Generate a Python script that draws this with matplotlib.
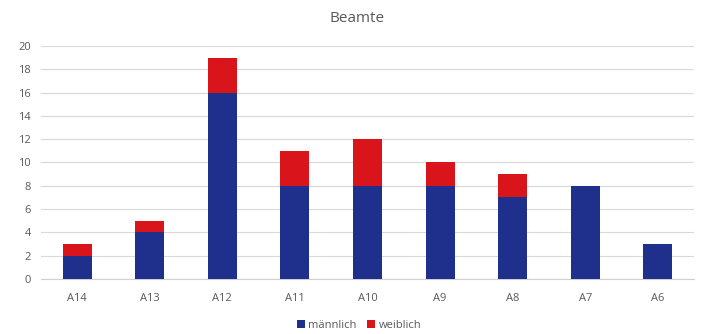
import matplotlib
matplotlib.use("Agg")
import matplotlib.pyplot as plt
import numpy as np

categories = ["A14", "A13", "A12", "A11", "A10", "A9", "A8", "A7", "A6"]
maennlich = [2, 4, 16, 8, 8, 8, 7, 8, 3]
weiblich = [1, 1, 3, 3, 4, 2, 2, 0, 0]
y_ticks = [0, 2, 4, 6, 8, 10, 12, 14, 16, 18, 20]

plt.rcParams["font.family"] = ["Open Sans", "DejaVu Sans"]

fig = plt.figure(figsize=(7.04, 3.34), dpi=100)
ax = fig.add_axes([0.058, 0.165, 0.928, 0.697])

x = np.arange(len(categories))
navy = "#1f2f8c"
red = "#d9141b"
ax.bar(x, maennlich, width=0.4, color=navy, label="männlich", zorder=3)
ax.bar(x, weiblich, width=0.4, bottom=maennlich, color=red, label="weiblich", zorder=3)

ax.set_xlim(-0.5, len(categories) - 0.5)
ax.set_ylim(0, 20)
ax.set_yticks(y_ticks)
ax.set_xticks(x)
ax.set_xticklabels(categories)
ax.tick_params(axis="both", length=0, labelsize=8, colors="#595959")
ax.tick_params(axis="x", pad=10)
ax.tick_params(axis="y", pad=7)
ax.grid(axis="y", color="#d9d9d9", linewidth=0.8, zorder=0)
for side in ("top", "right", "left"):
    ax.spines[side].set_visible(False)
ax.spines["bottom"].set_color("#d0d0d0")

fig.text(0.507, 0.945, "Beamte", ha="center", va="center", fontsize=11, color="#595959")

fig.legend(loc="center", bbox_to_anchor=(0.51, 0.025), ncol=2, frameon=False,
           fontsize=8, handlelength=0.7, handleheight=0.7, handletextpad=0.3,
           columnspacing=1.0, labelcolor="#595959")

fig.savefig("out.png", dpi=100)
